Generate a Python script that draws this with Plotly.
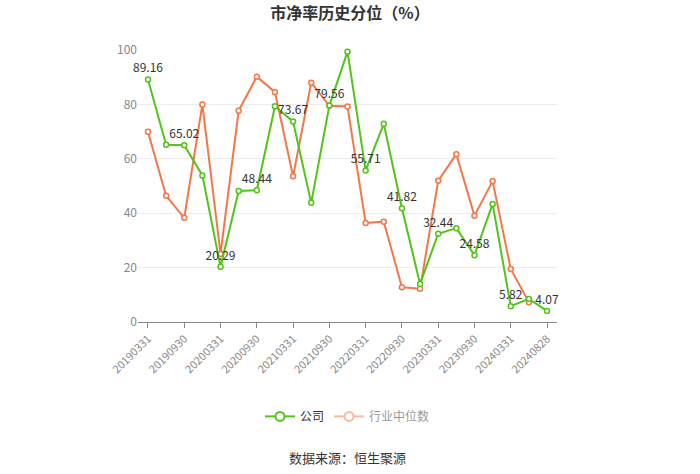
import plotly.graph_objects as go

dates = ["20190331", "20190630", "20190930", "20191231",
         "20200331", "20200630", "20200930", "20201231",
         "20210331", "20210630", "20210930", "20211231",
         "20220331", "20220630", "20220930", "20221231",
         "20230331", "20230630", "20230930", "20231231",
         "20240331", "20240630", "20240828"]
company = [89.16, 65.2, 65.02, 53.9, 20.29, 48.2, 48.44, 79.3,
           73.67, 43.8, 79.56, 99.4, 55.71, 72.9, 41.82, 14.0,
           32.44, 34.5, 24.58, 43.4, 5.82, 8.5, 4.07]
industry = [69.9, 46.4, 38.3, 80.0, 25.0, 77.7, 90.2, 84.5,
            53.6, 88.0, 79.5, 79.2, 36.4, 36.9, 12.8, 12.2,
            51.9, 61.7, 39.1, 51.8, 19.5, 7.3, None]
labels = [f"{v:.2f}" if i % 2 == 0 else "" for i, v in enumerate(company)]
tick_labels = dates[::2]

GREEN = "#52c41a"
ORANGE = "#f4774a"
FONT = "Noto Sans CJK SC"

fig = go.Figure()
fig.add_trace(go.Scatter(
    x=dates, y=industry, mode="lines+markers", name="行业中位数",
    line=dict(color=ORANGE, width=2),
    marker=dict(size=5, color="white", line=dict(color=ORANGE, width=1.5)),
    showlegend=False, connectgaps=False, cliponaxis=False))
fig.add_trace(go.Scatter(
    x=dates, y=company, mode="lines+markers+text", name="公司",
    text=labels, textposition="top center",
    textfont=dict(size=12, color="#333333", family=FONT),
    line=dict(color=GREEN, width=2),
    marker=dict(size=5, color="white", line=dict(color=GREEN, width=1.5)),
    showlegend=False, cliponaxis=False))
# legend entries
fig.add_trace(go.Scatter(
    x=[None], y=[None], mode="lines+markers", name="公司",
    line=dict(color=GREEN, width=2),
    marker=dict(size=9, color="white", line=dict(color=GREEN, width=2))))
fig.add_trace(go.Scatter(
    x=[None], y=[None], mode="lines+markers", name="行业中位数",
    visible="legendonly",
    line=dict(color=ORANGE, width=2),
    marker=dict(size=9, color="white", line=dict(color=ORANGE, width=2))))

fig.update_layout(
    width=700, height=474,
    margin=dict(l=138, r=143, t=49.5, b=151.7),
    paper_bgcolor="white", plot_bgcolor="white",
    font=dict(family=FONT, color="#333333"),
    title=dict(text="<b>市净率历史分位（%）</b>", x=0.5, xanchor="center",
               y=1 - 13 / 474, yanchor="middle",
               font=dict(size=16, color="#333333", family=FONT)),
    showlegend=True,
    legend=dict(orientation="h", x=0.5, xanchor="center",
                y=-0.347, yanchor="middle",
                font=dict(size=12, color="#333333", family=FONT),
                itemwidth=30, bgcolor="rgba(0,0,0,0)"),
    annotations=[dict(text="数据来源：恒生聚源", xref="paper", yref="paper",
                      x=0.5, y=-0.497, xanchor="center", yanchor="middle",
                      showarrow=False,
                      font=dict(size=13, color="#333333", family=FONT))],
)
fig.update_xaxes(
    type="category", range=[-0.55, 22.55],
    tickmode="array", tickvals=tick_labels, ticktext=tick_labels,
    tickangle=-45, ticks="outside", ticklen=5, tickcolor="#888888",
    showline=True, linecolor="#888888", linewidth=1,
    showgrid=False, zeroline=False,
    tickfont=dict(size=11, color="#888888", family=FONT))
fig.update_yaxes(
    range=[0, 100], tickvals=[0, 20, 40, 60, 80, 100],
    showgrid=True, gridcolor="#ececec", gridwidth=1,
    zeroline=False, showline=False, ticks="",
    tickfont=dict(size=12, color="#888888", family=FONT))

fig.write_html("out.html")
